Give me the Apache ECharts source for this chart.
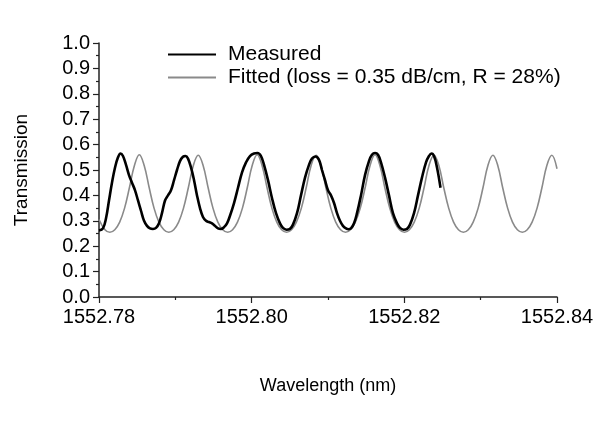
<!DOCTYPE html>
<html style="height: 100%">
<head>
<meta charset="UTF-8">
<script src="https://cdn.jsdelivr.net/npm/echarts@6/dist/echarts.min.js"></script>
<title>Transmission</title>
<style>
  html, body { margin: 0; padding: 0; background: #fff; }
  #chart { width: 597px; height: 430px; }
</style>
</head>
<body>
<div id="chart"></div>
<script type="text/javascript">
// measured spectrum (nm, transmission)
var measWl = [
  1552.78000, 1552.78052, 1552.78092, 1552.78131, 1552.78170, 1552.78210, 1552.78249, 1552.78282,
  1552.78314, 1552.78354, 1552.78393, 1552.78432, 1552.78472, 1552.78511, 1552.78550, 1552.78590,
  1552.78629, 1552.78668, 1552.78707, 1552.78747, 1552.78786, 1552.78825, 1552.78865, 1552.78904,
  1552.78943, 1552.78983, 1552.79022, 1552.79061, 1552.79100, 1552.79133, 1552.79166, 1552.79205,
  1552.79245, 1552.79284, 1552.79323, 1552.79362, 1552.79402, 1552.79441, 1552.79480, 1552.79520,
  1552.79559, 1552.79598, 1552.79638, 1552.79677, 1552.79716, 1552.79769, 1552.79821, 1552.79873,
  1552.79926, 1552.79978, 1552.80031, 1552.80076, 1552.80122, 1552.80162, 1552.80214, 1552.80266,
  1552.80319, 1552.80371, 1552.80410, 1552.80456, 1552.80502, 1552.80541, 1552.80594, 1552.80646,
  1552.80699, 1552.80751, 1552.80790, 1552.80836, 1552.80882, 1552.80921, 1552.80961, 1552.81000,
  1552.81039, 1552.81079, 1552.81118, 1552.81157, 1552.81196, 1552.81236, 1552.81268, 1552.81301,
  1552.81341, 1552.81380, 1552.81432, 1552.81485, 1552.81537, 1552.81576, 1552.81616, 1552.81655,
  1552.81694, 1552.81747, 1552.81799, 1552.81851, 1552.81904, 1552.81943, 1552.81989, 1552.82035,
  1552.82074, 1552.82127, 1552.82179, 1552.82231, 1552.82284, 1552.82323, 1552.82356, 1552.82389,
  1552.82428, 1552.82474
];
var measT = [
  0.262, 0.270, 0.310, 0.380, 0.450, 0.510, 0.550, 0.565,
  0.555, 0.520, 0.480, 0.450, 0.420, 0.380, 0.340, 0.300,
  0.280, 0.270, 0.268, 0.272, 0.290, 0.330, 0.380, 0.400,
  0.420, 0.460, 0.500, 0.535, 0.552, 0.555, 0.545, 0.510,
  0.460, 0.400, 0.350, 0.315, 0.300, 0.295, 0.290, 0.280,
  0.270, 0.268, 0.275, 0.290, 0.320, 0.370, 0.430, 0.490,
  0.530, 0.555, 0.565, 0.567, 0.555, 0.520, 0.460, 0.390,
  0.330, 0.290, 0.272, 0.265, 0.268, 0.285, 0.330, 0.400,
  0.470, 0.520, 0.545, 0.553, 0.540, 0.500, 0.460, 0.420,
  0.400, 0.370, 0.330, 0.300, 0.280, 0.270, 0.267, 0.270,
  0.290, 0.330, 0.400, 0.480, 0.535, 0.560, 0.567, 0.560,
  0.530, 0.470, 0.400, 0.330, 0.290, 0.272, 0.265, 0.268,
  0.285, 0.330, 0.400, 0.470, 0.530, 0.555, 0.565, 0.555,
  0.510, 0.430
];

// fitted curve (nm, transmission)
var fitWl = [
  1552.78000, 1552.78078, 1552.78142, 1552.78207, 1552.78271, 1552.78335, 1552.78399, 1552.78464,
  1552.78528, 1552.78592, 1552.78657, 1552.78721, 1552.78785, 1552.78850,
  1552.78914, 1552.78979, 1552.79043, 1552.79107, 1552.79171, 1552.79236,
  1552.79300, 1552.79364, 1552.79429, 1552.79493, 1552.79557, 1552.79621,
  1552.79686, 1552.79750, 1552.79814, 1552.79879, 1552.79943, 1552.80007,
  1552.80072, 1552.80136, 1552.80201, 1552.80265, 1552.80329, 1552.80393,
  1552.80458, 1552.80522, 1552.80586, 1552.80651, 1552.80715, 1552.80779,
  1552.80844, 1552.80908, 1552.80972, 1552.81037, 1552.81101, 1552.81165,
  1552.81230, 1552.81294, 1552.81358, 1552.81423, 1552.81487, 1552.81551,
  1552.81616, 1552.81680, 1552.81744, 1552.81809, 1552.81873, 1552.81937,
  1552.82002, 1552.82066, 1552.82130, 1552.82195, 1552.82259, 1552.82323,
  1552.82388, 1552.82452, 1552.82516, 1552.82581, 1552.82645, 1552.82709,
  1552.82774, 1552.82838, 1552.82902, 1552.82967, 1552.83031, 1552.83095,
  1552.83160, 1552.83224, 1552.83288, 1552.83353, 1552.83417, 1552.83481,
  1552.83546, 1552.83610, 1552.83674, 1552.83739, 1552.83803, 1552.83867,
  1552.83932, 1552.84000
];
var fitT = [
  0.305, 0.265, 0.255, 0.265, 0.295, 0.350, 0.431, 0.518,
  0.560, 0.518, 0.431, 0.350, 0.295, 0.265,
  0.255, 0.265, 0.295, 0.350, 0.431, 0.518,
  0.558, 0.518, 0.431, 0.350, 0.295, 0.265,
  0.255, 0.265, 0.295, 0.350, 0.431, 0.518,
  0.560, 0.518, 0.431, 0.350, 0.295, 0.265,
  0.255, 0.265, 0.295, 0.350, 0.431, 0.518,
  0.558, 0.518, 0.431, 0.350, 0.295, 0.265,
  0.255, 0.265, 0.295, 0.350, 0.431, 0.518,
  0.560, 0.518, 0.431, 0.350, 0.295, 0.265,
  0.255, 0.265, 0.295, 0.350, 0.431, 0.518,
  0.558, 0.518, 0.431, 0.350, 0.295, 0.265,
  0.255, 0.265, 0.295, 0.350, 0.431, 0.518,
  0.558, 0.518, 0.431, 0.350, 0.295, 0.265,
  0.255, 0.265, 0.295, 0.350, 0.431, 0.518,
  0.558, 0.505
];

var xTicks = [1552.78, 1552.84, 0.02];
var yTicks = [0, 1, 0.1];

function zip(xs, ys) {
  var out = [];
  for (var i = 0; i < xs.length; i++) out.push([xs[i], ys[i]]);
  return out;
}

var font = 'Liberation Sans, Arial, sans-serif';
var axisColor = '#222';

var myChart = echarts.init(document.getElementById('chart'), null, { renderer: 'canvas' });
var option = {
  animation: false,
  backgroundColor: '#fff',
  grid: { left: 99, right: 40, top: 43, bottom: 133 },
  legend: {
    orient: 'vertical',
    left: 162,
    top: 39,
    itemWidth: 48,
    itemHeight: 14,
    itemGap: 2,
    // hide the marker dot, keep only the line
    itemStyle: { color: 'rgba(0,0,0,0)', borderColor: 'rgba(0,0,0,0)', borderWidth: 0 },
    textStyle: { fontFamily: font, fontSize: 21, color: '#000', padding: [0, 0, 0, 7] },
    data: ['Measured', 'Fitted (loss = 0.35 dB/cm, R = 28%)']
  },
  xAxis: {
    type: 'value',
    min: xTicks[0],
    max: xTicks[1],
    interval: xTicks[2],
    name: 'Wavelength (nm)',
    nameLocation: 'middle',
    nameGap: 80,
    nameTextStyle: { fontFamily: font, fontSize: 18, color: '#000' },
    axisLine: { onZero: false, lineStyle: { color: axisColor, width: 1.5 } },
    axisTick: { show: true, length: 6, lineStyle: { color: axisColor, width: 1.2 } },
    minorTick: { show: true, splitNumber: 2, length: 3, lineStyle: { color: axisColor, width: 1.2 } },
    splitLine: { show: false },
    axisLabel: {
      fontFamily: font, fontSize: 20, color: '#000', margin: 10,
      formatter: function (v) { return v.toFixed(2); }
    }
  },
  yAxis: {
    type: 'value',
    min: yTicks[0],
    max: yTicks[1],
    interval: yTicks[2],
    name: 'Transmission',
    nameLocation: 'middle',
    nameGap: 68,
    nameTextStyle: { fontFamily: font, fontSize: 19, color: '#000' },
    axisLine: { show: true, lineStyle: { color: axisColor, width: 1.5 } },
    axisTick: { show: true, length: 6, lineStyle: { color: axisColor, width: 1.2 } },
    minorTick: { show: true, splitNumber: 2, length: 3, lineStyle: { color: axisColor, width: 1.2 } },
    splitLine: { show: false },
    axisLabel: {
      fontFamily: font, fontSize: 20, color: '#000', margin: 9,
      formatter: function (v) { return v.toFixed(1); }
    }
  },
  series: [
    {
      name: 'Measured',
      type: 'line',
      data: zip(measWl, measT),
      smooth: 0.4,
      symbol: 'none',
      z: 3,
      lineStyle: { color: '#000', width: 2.6 },
      itemStyle: { color: '#000' }
    },
    {
      name: 'Fitted (loss = 0.35 dB/cm, R = 28%)',
      type: 'line',
      data: zip(fitWl, fitT),
      smooth: 0.4,
      symbol: 'none',
      z: 2,
      lineStyle: { color: '#8a8a8a', width: 1.6 },
      itemStyle: { color: '#8a8a8a' }
    }
  ]
};
myChart.setOption(option);
</script>
</body>
</html>
